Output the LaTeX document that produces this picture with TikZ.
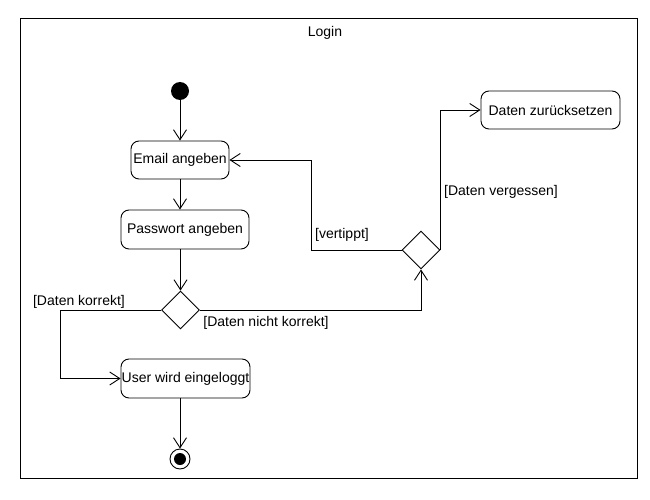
\documentclass[tikz,border=0pt]{standalone}
\usepackage{fontspec}
\setmainfont{Liberation Sans}
\usetikzlibrary{arrows.meta,shapes.geometric}
\begin{document}
\begin{tikzpicture}[x=1pt,y=-1pt,
  font=\fontsize{14}{16}\selectfont,
  line width=0.9pt,
  arr/.style={-{Straight Barb[length=10pt,width=13pt,line width=0.9pt]}},
  act/.style={draw,rounded corners=8pt,inner sep=0pt,minimum height=38pt},
  dec/.style={draw,diamond,aspect=1,inner sep=0pt,minimum width=38pt,minimum height=38pt},
  lbl/.style={inner sep=0pt}]
\useasboundingbox (0,0) rectangle (650,500);
\node[draw,line width=1pt,minimum width=617pt,minimum height=459pt,inner sep=0pt] (frame) at (328.5,248.5) {};
\node[lbl] (title) at (325,33) {Login};
\node[circle,fill=black,inner sep=0pt,minimum size=18pt] (start) at (180,91) {};
\node[act,minimum width=98pt] (email) at (180,160) {Email angeben};
\node[act,minimum width=128pt,minimum height=39pt] (pass) at (185,229.5) {Passwort angeben};
\node[dec] (dec1) at (180.5,310) {};
\node[act,minimum width=129pt,minimum height=39pt] (user) at (185.5,378.5) {User wird eingeloggt};
\node[circle,draw,inner sep=0pt,minimum size=20pt,
  path picture={\fill[black] (path picture bounding box.center) circle (6pt);}] (final) at (180,459) {};
\node[dec] (dec2) at (421,250) {};
\node[act,minimum width=139pt] (reset) at (550.5,110) {Daten zurücksetzen};
\coordinate (c1) at (60.5,310);
\coordinate (c2) at (311,250);
\draw[arr] (start) -- (email);
\draw[arr] (email.south) -- (email.south |- pass.north);
\draw[arr] (dec1.north |- pass.south) -- (dec1.north);
\draw[arr] (dec1.west) -- (c1) |- (user.west);
\draw[arr] (dec1.east) -| (dec2.south);
\draw[arr] (dec2.west) -- (c2) |- (email.east);
\draw[arr] (dec2.east) |- (reset.west);
\draw[arr] (final.north |- user.south) -- (final);
\node[lbl] (l1) at (79,302) {[Daten korrekt]};
\node[lbl] (l2) at (266,323) {[Daten nicht korrekt]};
\node[lbl] (l3) at (342,235) {[vertippt]};
\node[lbl] (l4) at (501,192) {[Daten vergessen]};
\end{tikzpicture}
\end{document}
